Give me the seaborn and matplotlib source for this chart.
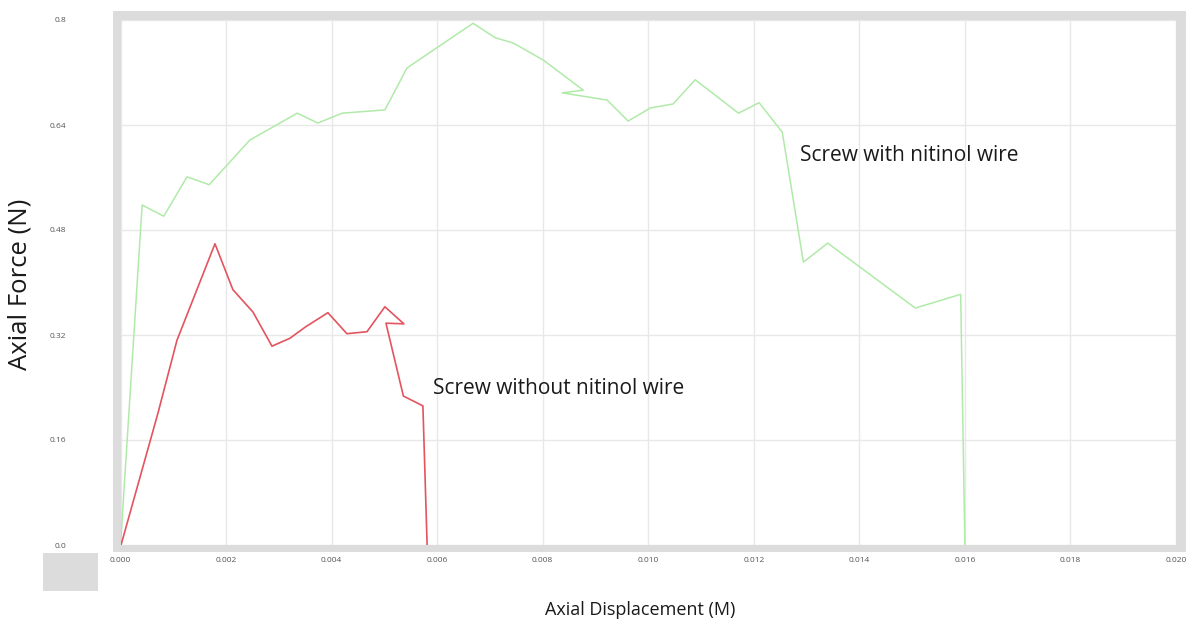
import matplotlib
matplotlib.use("Agg")
import matplotlib.pyplot as plt
from matplotlib.patches import Rectangle
import numpy as np
import pandas as pd
import seaborn as sns

# Load–displacement curves of the two screw types
disp_with = [0.0, 0.00041, 0.00082, 0.00126, 0.00168, 0.00245, 0.00335, 0.00374,
             0.00420, 0.00501, 0.00543, 0.00668, 0.00710, 0.00744, 0.00801, 0.00877,
             0.00837, 0.00922, 0.00962, 0.01004, 0.01047, 0.01089, 0.01171, 0.01210,
             0.01254, 0.01294, 0.01340, 0.01506, 0.01592, 0.01600]
force_with = [0.0, 0.518, 0.501, 0.561, 0.549, 0.617, 0.658, 0.643,
              0.658, 0.663, 0.727, 0.795, 0.773, 0.765, 0.739, 0.693,
              0.689, 0.678, 0.646, 0.666, 0.672, 0.709, 0.658, 0.674,
              0.629, 0.431, 0.460, 0.361, 0.382, 0.0]

disp_without = [0.00001, 0.00071, 0.00107, 0.00179, 0.00213, 0.00251, 0.00287, 0.00321,
                0.00350, 0.00393, 0.00429, 0.00467, 0.00501, 0.00537, 0.00503, 0.00536,
                0.00573, 0.00581]
force_without = [0.0, 0.201, 0.312, 0.459, 0.389, 0.355, 0.303, 0.315,
                 0.332, 0.354, 0.322, 0.325, 0.363, 0.337, 0.338, 0.227,
                 0.212, 0.0]

x_ticks = [0.000, 0.002, 0.004, 0.006, 0.008, 0.010, 0.012, 0.014, 0.016, 0.018, 0.020]
x_tick_labels = ["0.000", "0.002", "0.004", "0.006", "0.008", "0.010",
                 "0.012", "0.014", "0.016", "0.018", "0.020"]
y_ticks = [0.0, 0.16, 0.32, 0.48, 0.64, 0.8]
y_tick_labels = ["0.0", "0.16", "0.32", "0.48", "0.64", "0.8"]

label_with = "Screw with nitinol wire"
label_without = "Screw without nitinol wire"

df_with = pd.DataFrame({"disp": disp_with, "force": force_with})
df_without = pd.DataFrame({"disp": disp_without, "force": force_without})

sns.set_style("white")
plt.rcParams["font.family"] = ["Open Sans", "DejaVu Sans"]

W, H = 1188, 626
fig = plt.figure(figsize=(W / 100, H / 100), dpi=100)

# grey frame around the plotting area, kept behind the axes
frame_color = "#dcdcdc"
fig.patches.append(Rectangle((113 / W, (H - 552) / H), (1186 - 113) / W, (552 - 11) / H,
                             transform=fig.transFigure, facecolor=frame_color,
                             edgecolor="none", zorder=-10))
fig.patches.append(Rectangle((43 / W, (H - 591) / H), 55 / W, 38 / H,
                             transform=fig.transFigure, facecolor=frame_color,
                             edgecolor="none", zorder=-10))

ax = fig.add_axes([120.5 / W, (H - 545) / H, 1055.5 / W, 525 / H])
ax.set_facecolor("white")

sns.lineplot(data=df_with, x="disp", y="force", sort=False, estimator=None,
             color="#b0eaa9", linewidth=1.1, ax=ax)
sns.lineplot(data=df_without, x="disp", y="force", sort=False, estimator=None,
             color="#e3545e", linewidth=1.2, ax=ax)

ax.set_xlim(0, 0.02)
ax.set_ylim(0, 0.8)
ax.set_xticks(x_ticks)
ax.set_xticklabels(x_tick_labels)
ax.set_yticks(y_ticks)
ax.set_yticklabels(y_tick_labels)
ax.grid(True, color="#e8e8e8", linewidth=1.0)
ax.set_axisbelow(True)
for s in ax.spines.values():
    s.set_visible(False)

ax.tick_params(axis="both", length=0, labelsize=6, labelcolor="#555555")
ax.tick_params(axis="x", pad=9)
ax.tick_params(axis="y", pad=39)

ax.set_xlabel("Axial Displacement (M)", fontsize=13, color="#1a1a1a")
ax.set_ylabel("Axial Force (N)", fontsize=18.5, color="#1a1a1a")
ax.xaxis.set_label_coords(0.492, -0.124)
ax.xaxis.label.set_va("center")
ax.yaxis.set_label_coords(-0.0952, 0.496)
ax.yaxis.label.set_va("center")

ax.text(0.01288, 0.594, label_with, ha="left", va="center", fontsize=15, color="#1a1a1a")
ax.text(0.00592, 0.239, label_without, ha="left", va="center", fontsize=15, color="#1a1a1a")

fig.savefig("out.png", dpi=100)
